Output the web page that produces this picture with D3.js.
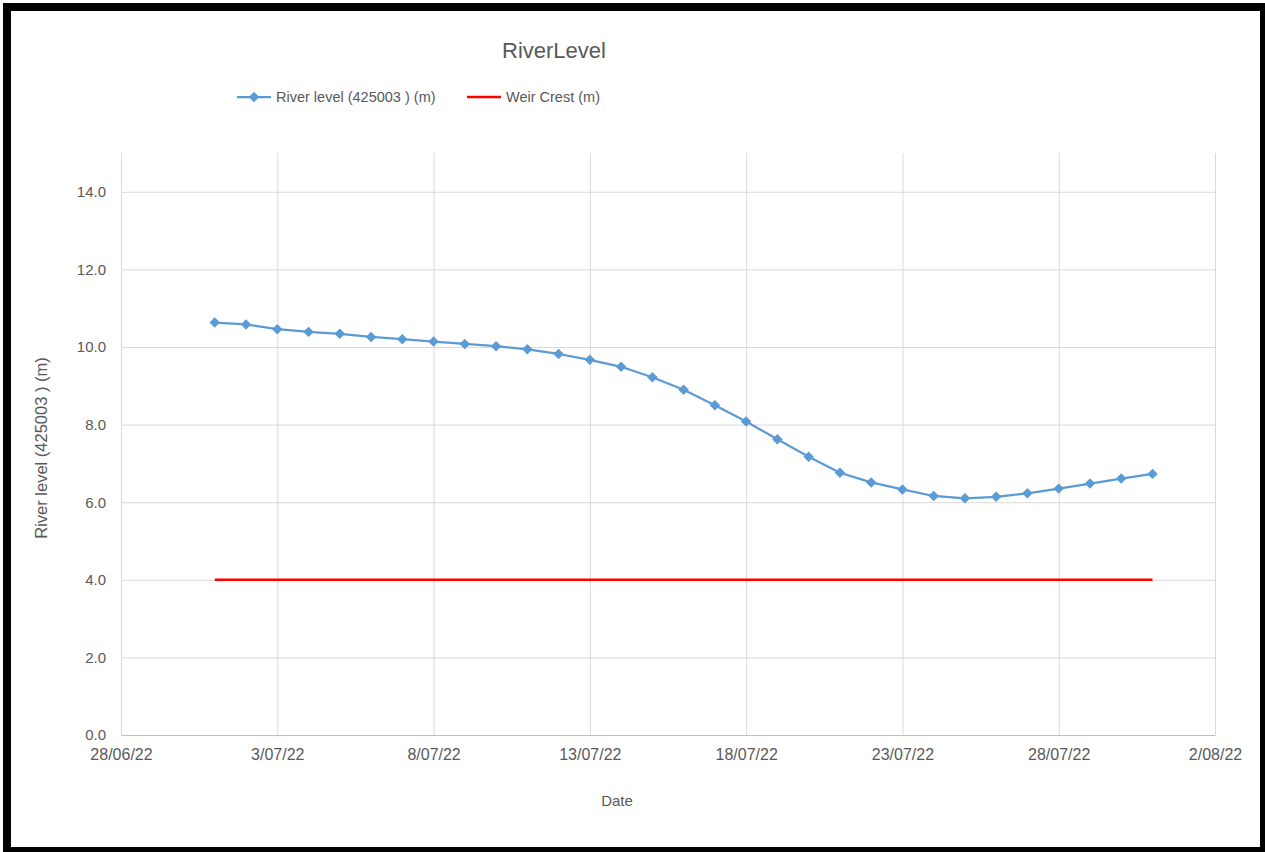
<!DOCTYPE html>
<html>
<head>
<meta charset="utf-8">
<script src="https://cdn.jsdelivr.net/npm/d3@7"></script>
<style>
  html, body { margin: 0; padding: 0; background: #fff; }
  svg { display: block; }
  text { font-family: "Liberation Sans", Arial, sans-serif; fill: #595959; }
</style>
</head>
<body>
<svg id="chart" width="1265" height="852"></svg>
<script>
// Daily readings, 1 July – 31 July 2022
const dates = [
  "2022-07-01","2022-07-02","2022-07-03","2022-07-04","2022-07-05","2022-07-06",
  "2022-07-07","2022-07-08","2022-07-09","2022-07-10","2022-07-11","2022-07-12",
  "2022-07-13","2022-07-14","2022-07-15","2022-07-16","2022-07-17","2022-07-18",
  "2022-07-19","2022-07-20","2022-07-21","2022-07-22","2022-07-23","2022-07-24",
  "2022-07-25","2022-07-26","2022-07-27","2022-07-28","2022-07-29","2022-07-30",
  "2022-07-31"
];
const riverLevel = [
  10.63, 10.58, 10.46, 10.39, 10.34, 10.26, 10.20, 10.14, 10.08, 10.02,
  9.94, 9.82, 9.67, 9.49, 9.22, 8.90, 8.50, 8.08, 7.62, 7.17,
  6.76, 6.51, 6.33, 6.16, 6.10, 6.14, 6.23, 6.35, 6.48, 6.61,
  6.73
];
const weirCrest = [
  4.0, 4.0, 4.0, 4.0, 4.0, 4.0, 4.0, 4.0, 4.0, 4.0,
  4.0, 4.0, 4.0, 4.0, 4.0, 4.0, 4.0, 4.0, 4.0, 4.0,
  4.0, 4.0, 4.0, 4.0, 4.0, 4.0, 4.0, 4.0, 4.0, 4.0,
  4.0
];
const xTickDates = ["2022-06-28","2022-07-03","2022-07-08","2022-07-13","2022-07-18","2022-07-23","2022-07-28","2022-08-02"];
const yTicks = [0, 2, 4, 6, 8, 10, 12, 14];
const seriesNames = ["River level (425003 ) (m)", "Weir Crest (m)"];

const parse = d3.utcParse("%Y-%m-%d");
const fmtDate = d => `${d.getUTCDate()}/${String(d.getUTCMonth() + 1).padStart(2, "0")}/${String(d.getUTCFullYear()).slice(2)}`;

const svg = d3.select("#chart");

// black frame round a white page
svg.append("rect").attr("x", 3).attr("y", 3).attr("width", 1270).attr("height", 860).attr("fill", "#000");
svg.append("rect").attr("x", 11).attr("y", 11).attr("width", 1249).attr("height", 836).attr("fill", "#fff");

const plot = { left: 121, right: 1215, top: 153, bottom: 735 };

const x = d3.scaleUtc()
  .domain([parse(xTickDates[0]), parse(xTickDates[xTickDates.length - 1])])
  .range([plot.left, plot.right]);
const y = d3.scaleLinear().domain([0, 15]).range([plot.bottom, plot.top]);

// horizontal gridlines
svg.append("g")
  .attr("transform", `translate(${plot.left},0)`)
  .call(d3.axisLeft(y).tickValues(yTicks).tickSize(-(plot.right - plot.left)).tickFormat(""))
  .call(g => g.select(".domain").remove())
  .call(g => g.selectAll("line").attr("stroke", "#d9d9d9").attr("stroke-width", 1));

// vertical gridlines
svg.append("g")
  .attr("transform", `translate(0,${plot.bottom})`)
  .call(d3.axisBottom(x).tickValues(xTickDates.map(parse)).tickSize(-(plot.bottom - plot.top)).tickFormat(""))
  .call(g => g.select(".domain").remove())
  .call(g => g.selectAll("line").attr("stroke", "#d9d9d9").attr("stroke-width", 1));

// bottom axis line and labels
svg.append("g")
  .attr("transform", `translate(0,${plot.bottom})`)
  .call(d3.axisBottom(x).tickValues(xTickDates.map(parse)).tickSize(0).tickPadding(14).tickFormat(fmtDate))
  .call(g => g.select(".domain").attr("stroke", "#bfbfbf"))
  .call(g => g.selectAll("text").style("font-size", "16px").attr("fill", "#595959"));

// left axis labels
svg.append("g")
  .attr("transform", `translate(${plot.left},0)`)
  .call(d3.axisLeft(y).tickValues(yTicks).tickSize(0).tickPadding(15).tickFormat(d3.format(".1f")))
  .call(g => g.select(".domain").remove())
  .call(g => g.selectAll("text").style("font-size", "15px").attr("fill", "#595959"));

const pts = dates.map((d, i) => ({ date: parse(d), level: riverLevel[i], weir: weirCrest[i] }));

// weir crest line
svg.append("path")
  .datum(pts)
  .attr("fill", "none")
  .attr("stroke", "#ff0000")
  .attr("stroke-width", 2.5)
  .attr("d", d3.line().x(d => x(d.date)).y(d => y(d.weir)));

// river level line + diamond markers
svg.append("path")
  .datum(pts)
  .attr("fill", "none")
  .attr("stroke", "#5b9bd5")
  .attr("stroke-width", 2.25)
  .attr("stroke-linejoin", "round")
  .attr("d", d3.line().x(d => x(d.date)).y(d => y(d.level)));

const diamond = d3.symbol().type(d3.symbolDiamond2).size(70);
svg.append("g").selectAll("path")
  .data(pts)
  .join("path")
  .attr("transform", d => `translate(${x(d.date)},${y(d.level)})`)
  .attr("d", diamond)
  .attr("fill", "#5b9bd5");

// title
svg.append("text")
  .attr("x", 554).attr("y", 58)
  .attr("text-anchor", "middle")
  .style("font-size", "22px")
  .text("RiverLevel");

// legend
const lg = svg.append("g").attr("transform", "translate(0,97)");
lg.append("line").attr("x1", 237).attr("x2", 271).attr("y1", 0).attr("y2", 0)
  .attr("stroke", "#5b9bd5").attr("stroke-width", 2.25);
lg.append("path").attr("transform", "translate(254,0)").attr("d", diamond).attr("fill", "#5b9bd5");
lg.append("text").attr("x", 276).attr("y", 5).style("font-size", "14.5px").text(seriesNames[0]);
lg.append("line").attr("x1", 467).attr("x2", 501).attr("y1", 0).attr("y2", 0)
  .attr("stroke", "#ff0000").attr("stroke-width", 2.5);
lg.append("text").attr("x", 506).attr("y", 5).style("font-size", "14.5px").text(seriesNames[1]);

// axis titles
svg.append("text")
  .attr("x", 617).attr("y", 806)
  .attr("text-anchor", "middle")
  .style("font-size", "15px")
  .text("Date");

svg.append("text")
  .attr("transform", "translate(47,448) rotate(-90)")
  .attr("text-anchor", "middle")
  .style("font-size", "16.5px")
  .text("River level (425003 ) (m)");
</script>
</body>
</html>
